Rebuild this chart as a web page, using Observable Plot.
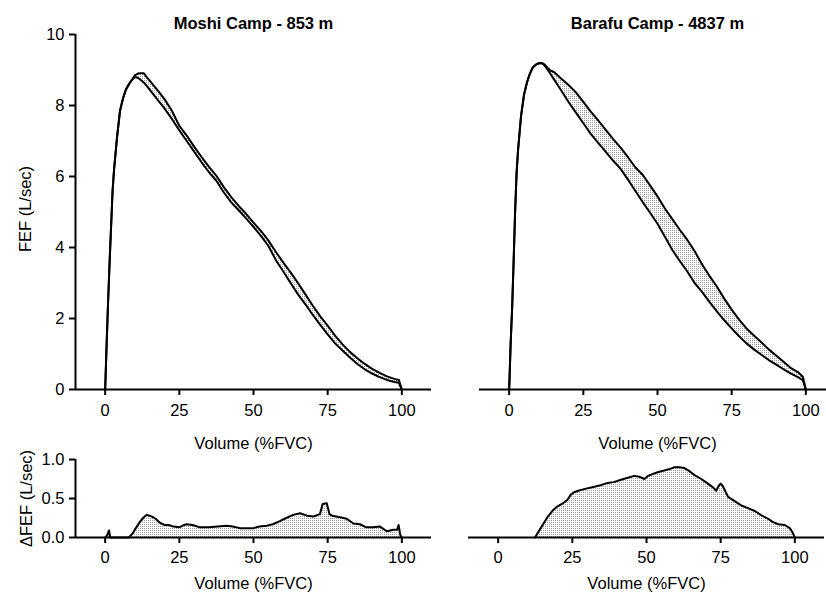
<!DOCTYPE html>
<html><head><meta charset="utf-8">
<script src="https://cdn.jsdelivr.net/npm/d3@7"></script>
<script src="https://cdn.jsdelivr.net/npm/@observablehq/plot@0.6"></script>
<style>
html,body{margin:0;padding:0;background:#fff;overflow:hidden;}
#chart{position:relative;width:826px;height:593px;overflow:hidden;background:#fff;}
</style></head><body>
<svg width="0" height="0" style="position:absolute"><defs>
<pattern id="dots" width="2" height="2" patternUnits="userSpaceOnUse"><rect width="2" height="2" fill="#fff"/><rect width="1" height="1" fill="#9a9a9a"/></pattern>
</defs></svg>
<div id="chart"></div>
<script>
// ---- data ----
const panelTitles = ["Moshi Camp - 853 m", "Barafu Camp - 4837 m"];
const xLabel = "Volume (%FVC)";
const yLabelTop = "FEF (L/sec)";
const yLabelBottom = "ΔFEF (L/sec)";
const xTicks = [0, 25, 50, 75, 100];
const yTicksTop = [0, 2, 4, 6, 8, 10];
const yTicksBottom = [0, 0.5, 1];

const moshiVol = [0,0.5,1,1.5,2,2.5,3,4,5,6,7,8,9,10,11,12,13,14,15,17.5,20,22.5,25,27.5,30,32.5,35,37.5,40,42.5,45,47.5,50,52.5,55,57.5,60,62.5,65,67.5,70,72.5,75,77.5,80,82.5,85,87.5,90,92.5,95,97.5,99,100];
const moshiLow = [0,1.3,2.5,3.6,4.6,5.6,6.2,7.1,7.85,8.2,8.45,8.6,8.72,8.8,8.78,8.72,8.65,8.55,8.45,8.18,7.92,7.62,7.3,7.0,6.7,6.4,6.12,5.88,5.55,5.27,5.05,4.82,4.58,4.33,4.05,3.65,3.33,3.0,2.68,2.4,2.1,1.82,1.55,1.3,1.1,0.9,0.72,0.57,0.45,0.35,0.27,0.21,0.19,0];
const moshiHigh = [0,1.3,2.5,3.6,4.6,5.6,6.2,7.1,7.85,8.2,8.45,8.6,8.72,8.85,8.9,8.91,8.91,8.8,8.7,8.45,8.18,7.85,7.43,7.15,6.84,6.55,6.27,6.02,5.7,5.42,5.17,4.95,4.7,4.47,4.2,3.88,3.58,3.3,3.0,2.68,2.36,2.06,1.8,1.52,1.27,1.06,0.88,0.72,0.58,0.47,0.37,0.3,0.27,0];

const barafuVol = [0,0.5,1,1.5,2,2.5,3,4,5,6,7,8,9,10,11,12,13,14,15,17.5,20,22.5,25,27.5,30,32.5,35,37.5,40,42.5,45,47.5,50,52.5,55,57.5,60,62.5,65,67.5,70,72.5,75,77.5,80,82.5,85,87.5,90,92.5,95,97.5,99,100];
const barafuLow = [0,1.3,2.3,3.6,5.0,6.1,6.75,7.7,8.3,8.65,8.9,9.08,9.15,9.19,9.2,9.12,9.0,8.88,8.75,8.43,8.1,7.8,7.5,7.2,6.95,6.7,6.45,6.22,5.92,5.6,5.28,4.98,4.67,4.3,3.93,3.62,3.33,3.0,2.75,2.47,2.2,1.95,1.72,1.5,1.3,1.13,0.98,0.83,0.7,0.57,0.45,0.34,0.26,0];
const barafuHigh = [0,1.3,2.3,3.6,5.0,6.1,6.75,7.7,8.3,8.65,8.9,9.08,9.15,9.19,9.2,9.15,9.06,8.98,8.95,8.76,8.58,8.37,8.1,7.83,7.58,7.32,7.06,6.82,6.55,6.26,6.05,5.75,5.44,5.1,4.8,4.5,4.22,3.9,3.53,3.2,2.9,2.56,2.25,1.97,1.72,1.52,1.33,1.13,0.96,0.78,0.6,0.48,0.36,0];

const moshiDeltaVol = [0,0.7,1.3,1.7,8,9.4,10.5,11.7,12.8,13.9,15,16.2,17.3,18.4,20,21.5,23,25,26,27.4,29.5,31.9,35,38,40.9,43,45.4,47.5,50,52,54.4,56.5,58.9,61,63.4,65.7,68,70.2,72.4,73.3,74.7,75.6,76.5,79.2,81.4,83.7,85.9,88,90.4,92.7,94.9,97.2,98.4,98.9,99.5,100];
const moshiDelta = [0,0.03,0.09,0,0,0.06,0.13,0.2,0.25,0.29,0.28,0.26,0.23,0.19,0.16,0.16,0.14,0.13,0.15,0.17,0.16,0.13,0.13,0.14,0.15,0.14,0.12,0.12,0.12,0.14,0.15,0.17,0.21,0.25,0.29,0.31,0.28,0.27,0.3,0.43,0.44,0.3,0.28,0.26,0.24,0.18,0.17,0.13,0.13,0.14,0.08,0.1,0.1,0.16,0.03,0];

const barafuDeltaVol = [12.4,14.5,16.6,18.5,20,21.5,23.3,24.5,25.6,27,29,32.4,34.5,36.9,39,41.4,44,45.9,47.5,49.3,50.5,52.6,54,56,58,59.4,61,62.8,64.5,66.2,68.5,70.7,72.5,73.5,74.3,75,75.7,76.5,77.5,80,82,84,86.5,88.5,91,92.5,94.4,96.6,98.3,99.3,100];
const barafuDelta = [0,0.13,0.26,0.35,0.4,0.43,0.48,0.55,0.58,0.6,0.62,0.65,0.67,0.7,0.71,0.74,0.77,0.79,0.78,0.75,0.79,0.82,0.84,0.86,0.88,0.9,0.9,0.89,0.85,0.8,0.75,0.69,0.64,0.6,0.66,0.69,0.66,0.6,0.52,0.46,0.41,0.38,0.34,0.29,0.24,0.2,0.17,0.16,0.12,0.06,0];

// ---- drawing ----
const FONT = '"Liberation Sans", Arial, Helvetica, sans-serif';
const baseStyle = {fontSize: "16.5px", fontFamily: FONT, color: "black", background: "transparent", maxWidth: "none", overflow: "visible"};
const chart = document.getElementById("chart");

function place(el, left, top) {
  el.style.position = "absolute";
  el.style.left = left + "px";
  el.style.top = top + "px";
  chart.appendChild(el);
}

function topPanel(vol, low, high, title, withY) {
  const rows = vol.map((v, i) => ({v, lo: low[i], hi: high[i]}));
  const marks = [
    Plot.areaY(rows, {x: "v", y1: "lo", y2: "hi", fill: "url(#dots)"}),
    Plot.ruleY([0], {strokeWidth: 2}),
    Plot.axisX({ticks: xTicks, tickSize: 6, tickPadding: 9, strokeWidth: 2, label: null}),
    Plot.line(rows, {x: "v", y: "lo", strokeWidth: 2, strokeLinejoin: "round"}),
    Plot.line(rows, {x: "v", y: "hi", strokeWidth: 2, strokeLinejoin: "round"}),
    Plot.text([title], {text: d => d, frameAnchor: "top", dy: -11, lineAnchor: "middle", textAnchor: "middle", fontWeight: "bold"}),
    Plot.text([xLabel], {text: d => d, frameAnchor: "bottom", dy: 54, lineAnchor: "middle", textAnchor: "middle"})
  ];
  if (withY) {
    marks.push(
      Plot.ruleX([-10], {strokeWidth: 2}),
      Plot.axisY({ticks: yTicksTop, tickSize: 6, tickPadding: 5, strokeWidth: 2, label: null}),
      Plot.text([yLabelTop], {text: d => d, frameAnchor: "left", dx: -50, dy: -3, rotate: -90, lineAnchor: "middle", textAnchor: "middle"})
    );
  }
  return Plot.plot({
    width: 440, height: 450,
    marginLeft: 75, marginRight: 9, marginTop: 34, marginBottom: 61,
    style: baseStyle,
    x: {domain: [-10, 110]},
    y: withY ? {domain: [0, 10]} : {domain: [0, 10], axis: null},
    marks
  });
}

function bottomPanel(vol, delta, withY) {
  const rows = vol.map((v, i) => ({v, d: delta[i]}));
  const marks = [
    Plot.areaY(rows, {x: "v", y: "d", fill: "url(#dots)"}),
    Plot.ruleY([0], {strokeWidth: 2}),
    Plot.axisX({ticks: xTicks, tickSize: 6, tickPadding: 8, strokeWidth: 2, label: null}),
    Plot.line(rows, {x: "v", y: "d", strokeWidth: 2, strokeLinejoin: "round"}),
    Plot.text([xLabel], {text: d => d, frameAnchor: "bottom", dy: 46, lineAnchor: "middle", textAnchor: "middle"})
  ];
  if (withY) {
    marks.push(
      Plot.ruleX([-10], {strokeWidth: 2}),
      Plot.axisY({ticks: yTicksBottom, tickFormat: d3.format(".1f"), tickSize: 6, tickPadding: 5, strokeWidth: 2, label: null}),
      Plot.text([yLabelBottom], {text: d => d, frameAnchor: "left", dx: -49, rotate: -90, lineAnchor: "middle", textAnchor: "middle"})
    );
  }
  return Plot.plot({
    width: 440, height: 143,
    marginLeft: 75, marginRight: 9, marginTop: 9, marginBottom: 56,
    style: baseStyle,
    x: {domain: [-10, 110]},
    y: withY ? {domain: [0, 1]} : {domain: [0, 1], axis: null},
    marks
  });
}

place(topPanel(moshiVol, moshiLow, moshiHigh, panelTitles[0], true), 0, 0);
place(topPanel(barafuVol, barafuLow, barafuHigh, panelTitles[1], false), 404, 0);
place(bottomPanel(moshiDeltaVol, moshiDelta, true), 0, 450);
place(bottomPanel(barafuDeltaVol, barafuDelta, false), 393, 450);
</script>
</body></html>
